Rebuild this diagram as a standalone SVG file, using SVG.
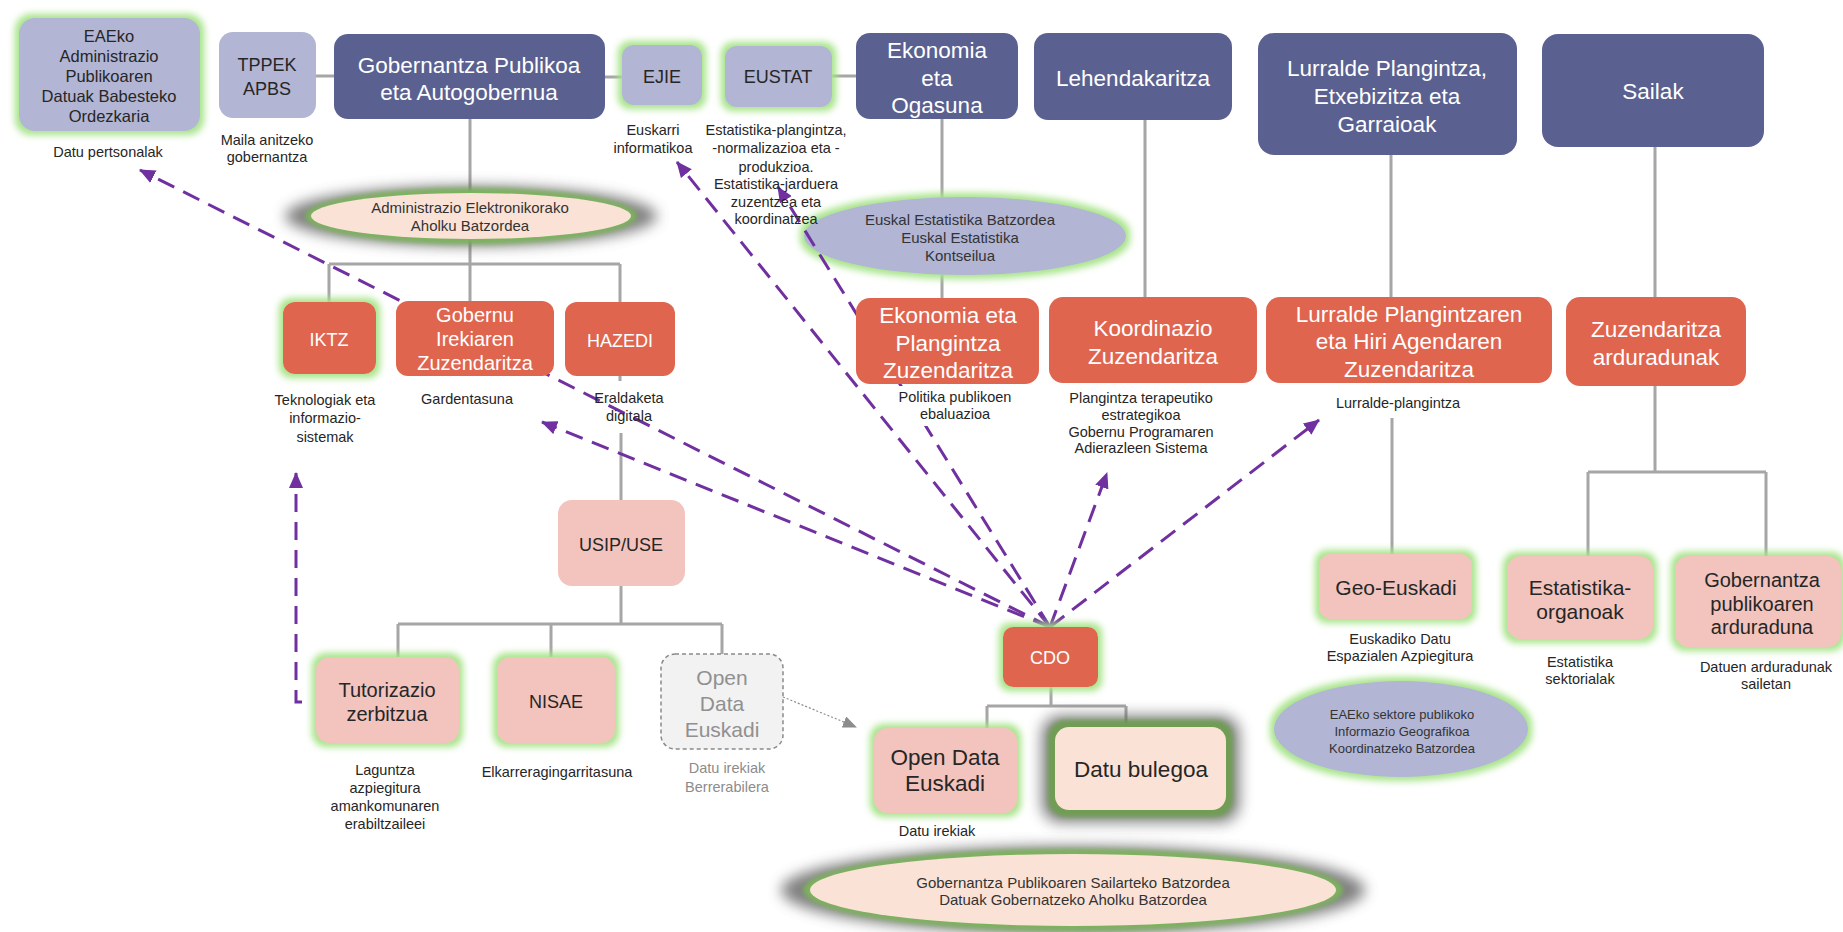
<svg xmlns="http://www.w3.org/2000/svg" width="1843" height="932" viewBox="0 0 1843 932">
<defs>
<style>
text{font-family:"Liberation Sans",Arial,sans-serif;text-anchor:middle}
.w{fill:#fff}
.k{fill:#262626}
.s{font-size:14.5px;fill:#262626}
.e{font-size:15px;fill:#333}
.lav{fill:#b2b5d3}
.dark{fill:#5a6190}
.cor{fill:#e0654f}
.pink{fill:#f2c4bd}
.peach{fill:#fae3d6}
.gl{stroke:#a6a6a6;stroke-width:3;fill:none}
.ar{stroke:#7030a0;stroke-width:3;fill:none;stroke-dasharray:18 10;marker-end:url(#ah)}
.f16{font-size:16.5px}
.f18{font-size:18px}
.f20{font-size:20px}
.f21{font-size:21px}
.f22{font-size:22.5px}
</style>
<marker id="ah" markerUnits="userSpaceOnUse" markerWidth="16" markerHeight="14" refX="15" refY="7" orient="auto"><path d="M0,0 L16,7 L0,14 z" fill="#7030a0"/></marker>
<marker id="gah" markerUnits="userSpaceOnUse" markerWidth="14" markerHeight="12" refX="13" refY="6" orient="auto"><path d="M0,0 L14,6 L0,12 z" fill="#8c8c8c"/></marker>
<filter id="glow" x="-30%" y="-30%" width="160%" height="160%">
<feMorphology in="SourceAlpha" operator="dilate" radius="4" result="d"/>
<feGaussianBlur in="d" stdDeviation="3.5" result="b"/>
<feFlood flood-color="#a6e388"/>
<feComposite in2="b" operator="in" result="g"/>
<feMerge><feMergeNode in="g"/><feMergeNode in="SourceGraphic"/></feMerge>
</filter>
<filter id="b2" x="-20%" y="-50%" width="140%" height="200%"><feGaussianBlur stdDeviation="2.5"/></filter>
<filter id="b7" x="-20%" y="-100%" width="140%" height="300%"><feGaussianBlur stdDeviation="7"/></filter>
</defs>
<rect width="1843" height="932" fill="#fff"/>

<g id="connectors">
<path class="gl" d="M316,76H334M605,77H622M832,76H856"/>
<path class="gl" d="M470,119V301M329,264H620M329,264V302M620,264V302"/>
<path class="gl" d="M620,376V381M621,433V500M621,586V624M398,624H722M398,624V657M551,624V657M722,624V654"/>
<path class="gl" d="M942,119V298M1145,120V297M1391,155V297M1392,418V554"/>
<path class="gl" d="M1655,147V297M1655,386V472M1588,472H1766M1588,472V556M1766,472V556"/>
<path class="gl" d="M1051,687V706M987,706H1126M987,706V728M1126,706V727"/>
</g>

<g id="n_admin_ellipse">
<ellipse cx="471" cy="216" rx="186" ry="30" fill="#555" opacity="0.75" filter="url(#b7)"/>
<ellipse cx="471" cy="216" rx="166" ry="28" fill="#7db35d" filter="url(#b2)"/>
<ellipse cx="471" cy="216" rx="160" ry="23" class="peach"/>
<text class="e"><tspan x="470" y="213">Administrazio Elektronikorako</tspan><tspan x="470" y="231">Aholku Batzordea</tspan></text>
</g>

<g id="n_euskal_ellipse">
<ellipse cx="965" cy="236" rx="161" ry="39" class="lav" filter="url(#glow)"/>
<text class="e"><tspan x="960" y="225">Euskal Estatistika Batzordea</tspan><tspan x="960" y="243">Euskal Estatistika</tspan><tspan x="960" y="261">Kontseilua</tspan></text>
</g>

<g id="n_geo_ellipse">
<ellipse cx="1401" cy="729" rx="127" ry="48" class="lav" filter="url(#glow)"/>
<text class="e" style="font-size:13px"><tspan x="1402" y="719">EAEko sektore publikoko</tspan><tspan x="1402" y="736">Informazio Geografikoa</tspan><tspan x="1402" y="753">Koordinatzeko Batzordea</tspan></text>
</g>

<g id="n_bottom_ellipse">
<ellipse cx="1073" cy="890" rx="292" ry="44" fill="#555" opacity="0.75" filter="url(#b7)"/>
<ellipse cx="1073" cy="890" rx="270" ry="41" fill="#7db35d" filter="url(#b2)"/>
<ellipse cx="1073" cy="890" rx="263" ry="36" class="peach"/>
<text class="e"><tspan x="1073" y="888">Gobernantza Publikoaren Sailarteko Batzordea</tspan><tspan x="1073" y="905">Datuak Gobernatzeko Aholku Batzordea</tspan></text>
</g>

<g id="arrows">
<path class="ar" d="M1050,627L140,170"/>
<path class="ar" d="M1050,627L677,162"/>
<path class="ar" d="M1050,627L778,187"/>
<path class="ar" d="M1050,627L542,422"/>
<path class="ar" d="M1050,627L1107,473"/>
<path class="ar" d="M1050,627L1319,420"/>
<path class="ar" d="M302,702H296V473"/>
<path d="M783,697L856,727" stroke="#8c8c8c" stroke-width="1.2" stroke-dasharray="2 2" fill="none" marker-end="url(#gah)"/>
</g>

<g id="n_eaeko">
<rect x="19" y="18" width="181" height="113" rx="16" class="lav" filter="url(#glow)"/>
<text class="k f16"><tspan x="109" y="42">EAEko</tspan><tspan x="109" y="62">Administrazio</tspan><tspan x="109" y="82">Publikoaren</tspan><tspan x="109" y="102">Datuak Babesteko</tspan><tspan x="109" y="122">Ordezkaria</tspan></text>
<text class="s" x="108" y="157">Datu pertsonalak</text>
</g>

<g id="n_tppek">
<rect x="219" y="32" width="97" height="86" rx="14" class="lav"/>
<text class="k f18"><tspan x="267" y="71">TPPEK</tspan><tspan x="267" y="95">APBS</tspan></text>
<text class="s"><tspan x="267" y="145">Maila anitzeko</tspan><tspan x="267" y="162">gobernantza</tspan></text>
</g>

<g id="n_gob">
<rect x="334" y="34" width="271" height="85" rx="14" class="dark"/>
<text class="w f22"><tspan x="469" y="73">Gobernantza Publikoa</tspan><tspan x="469" y="100">eta Autogobernua</tspan></text>
</g>

<g id="n_ejie">
<rect x="622" y="45" width="80" height="60" rx="12" class="lav" filter="url(#glow)"/>
<text class="k f18" x="662" y="83">EJIE</text>
<text class="s"><tspan x="653" y="135">Euskarri</tspan><tspan x="653" y="153">informatikoa</tspan></text>
</g>

<g id="n_eustat">
<rect x="725" y="46" width="107" height="61" rx="12" class="lav" filter="url(#glow)"/>
<text class="k f18" x="778" y="83">EUSTAT</text>
<text class="s"><tspan x="776" y="135">Estatistika-plangintza,</tspan><tspan x="776" y="153">-normalizazioa eta -</tspan><tspan x="776" y="172">produkzioa.</tspan><tspan x="776" y="189">Estatistika-jarduera</tspan><tspan x="776" y="207">zuzentzea eta</tspan><tspan x="776" y="224">koordinatzea</tspan></text>
</g>

<g id="n_ekon">
<rect x="856" y="33" width="162" height="86" rx="14" class="dark"/>
<text class="w f22"><tspan x="937" y="58">Ekonomia</tspan><tspan x="937" y="86">eta</tspan><tspan x="937" y="113">Ogasuna</tspan></text>
</g>

<g id="n_lehen">
<rect x="1034" y="33" width="198" height="87" rx="14" class="dark"/>
<text class="w f22" x="1133" y="86">Lehendakaritza</text>
</g>

<g id="n_lurralde">
<rect x="1258" y="33" width="259" height="122" rx="16" class="dark"/>
<text class="w f22"><tspan x="1387" y="76">Lurralde Plangintza,</tspan><tspan x="1387" y="104">Etxebizitza eta</tspan><tspan x="1387" y="132">Garraioak</tspan></text>
</g>

<g id="n_sailak">
<rect x="1542" y="34" width="222" height="113" rx="16" class="dark"/>
<text class="w f22" x="1653" y="99">Sailak</text>
</g>

<g id="n_iktz">
<rect x="283" y="302" width="93" height="72" rx="12" class="cor" filter="url(#glow)"/>
<text class="w f18" x="329" y="346">IKTZ</text>
<text class="s"><tspan x="325" y="405">Teknologiak eta</tspan><tspan x="325" y="423">informazio-</tspan><tspan x="325" y="442">sistemak</tspan></text>
</g>

<g id="n_gobernu">
<rect x="396" y="301" width="158" height="75" rx="12" class="cor"/>
<text class="w f20"><tspan x="475" y="322">Gobernu</tspan><tspan x="475" y="346">Irekiaren</tspan><tspan x="475" y="370">Zuzendaritza</tspan></text>
<text class="s" x="467" y="404">Gardentasuna</text>
</g>

<g id="n_hazedi">
<rect x="565" y="302" width="110" height="74" rx="12" class="cor"/>
<text class="w f18" x="620" y="347">HAZEDI</text>
<text class="s"><tspan x="629" y="403">Eraldaketa</tspan><tspan x="629" y="421">digitala</tspan></text>
</g>

<g id="n_ekplan">
<rect x="893" y="386" width="124" height="40" fill="#fff"/>
<rect x="856" y="298" width="183" height="86" rx="14" class="cor"/>
<text class="w f22"><tspan x="948" y="323">Ekonomia eta</tspan><tspan x="948" y="351">Plangintza</tspan><tspan x="948" y="378">Zuzendaritza</tspan></text>
<text class="s"><tspan x="955" y="402">Politika publikoen</tspan><tspan x="955" y="419">ebaluazioa</tspan></text>
</g>

<g id="n_koord">
<rect x="1049" y="297" width="208" height="86" rx="14" class="cor"/>
<text class="w f22"><tspan x="1153" y="336">Koordinazio</tspan><tspan x="1153" y="364">Zuzendaritza</tspan></text>
<text class="s"><tspan x="1141" y="403">Plangintza terapeutiko</tspan><tspan x="1141" y="420">estrategikoa</tspan><tspan x="1141" y="437">Gobernu Programaren</tspan><tspan x="1141" y="453">Adierazleen Sistema</tspan></text>
</g>

<g id="n_lurzuz">
<rect x="1266" y="297" width="286" height="86" rx="14" class="cor"/>
<text class="w f22"><tspan x="1409" y="322">Lurralde Plangintzaren</tspan><tspan x="1409" y="349">eta Hiri Agendaren</tspan><tspan x="1409" y="377">Zuzendaritza</tspan></text>
<text class="s" x="1398" y="408">Lurralde-plangintza</text>
</g>

<g id="n_zuzard">
<rect x="1566" y="297" width="180" height="89" rx="14" class="cor"/>
<text class="w f22"><tspan x="1656" y="337">Zuzendaritza</tspan><tspan x="1656" y="365">arduradunak</tspan></text>
</g>

<g id="n_usip">
<rect x="558" y="500" width="127" height="86" rx="14" class="pink"/>
<text class="k f18" x="621" y="551">USIP/USE</text>
</g>

<g id="n_geo">
<rect x="1319" y="554" width="153" height="65" rx="12" class="pink" filter="url(#glow)"/>
<text class="k f21" x="1396" y="595">Geo-Euskadi</text>
<text class="s"><tspan x="1400" y="644">Euskadiko Datu</tspan><tspan x="1400" y="661">Espazialen Azpiegitura</tspan></text>
</g>

<g id="n_estat">
<rect x="1507" y="556" width="146" height="83" rx="14" class="pink" filter="url(#glow)"/>
<text class="k f21"><tspan x="1580" y="595">Estatistika-</tspan><tspan x="1580" y="619">organoak</tspan></text>
<text class="s"><tspan x="1580" y="667">Estatistika</tspan><tspan x="1580" y="684">sektorialak</tspan></text>
</g>

<g id="n_gobard">
<rect x="1675" y="556" width="166" height="91" rx="14" class="pink" filter="url(#glow)"/>
<text class="k f20"><tspan x="1762" y="587">Gobernantza</tspan><tspan x="1762" y="611">publikoaren</tspan><tspan x="1762" y="634">arduraduna</tspan></text>
<text class="s"><tspan x="1766" y="672">Datuen arduradunak</tspan><tspan x="1766" y="689">sailetan</tspan></text>
</g>

<g id="n_cdo">
<rect x="1003" y="627" width="95" height="60" rx="10" class="cor" filter="url(#glow)"/>
<text class="w f18" x="1050" y="664">CDO</text>
</g>

<g id="n_tutor">
<rect x="316" y="657" width="143" height="86" rx="14" class="pink" filter="url(#glow)"/>
<text class="k f20"><tspan x="387" y="697">Tutorizazio</tspan><tspan x="387" y="721">zerbitzua</tspan></text>
<text class="s"><tspan x="385" y="775">Laguntza</tspan><tspan x="385" y="793">azpiegitura</tspan><tspan x="385" y="811">amankomunaren</tspan><tspan x="385" y="829">erabiltzaileei</tspan></text>
</g>

<g id="n_nisae">
<rect x="497" y="657" width="118" height="86" rx="14" class="pink" filter="url(#glow)"/>
<text class="k f18" x="556" y="708">NISAE</text>
<text class="s" x="557" y="777">Elkarreragingarritasuna</text>
</g>

<g id="n_odedash">
<rect x="661" y="654" width="122" height="95" rx="14" fill="#f2f2f2" stroke="#8a8a8a" stroke-width="1.5" stroke-dasharray="4 3"/>
<text class="f21" fill="#909090"><tspan x="722" y="685">Open</tspan><tspan x="722" y="711">Data</tspan><tspan x="722" y="737">Euskadi</tspan></text>
<text class="s" style="fill:#8c8c8c"><tspan x="727" y="773">Datu irekiak</tspan><tspan x="727" y="792">Berrerabilera</tspan></text>
</g>

<g id="n_odeuskadi">
<rect x="874" y="728" width="143" height="85" rx="14" class="pink" filter="url(#glow)"/>
<text class="k f22"><tspan x="945" y="765">Open Data</tspan><tspan x="945" y="791">Euskadi</tspan></text>
<text class="s" x="937" y="836">Datu irekiak</text>
</g>

<g id="n_datubul">
<rect x="1041" y="715" width="199" height="108" rx="20" fill="#555" opacity="0.7" filter="url(#b7)"/>
<rect x="1048" y="720" width="185" height="97" rx="18" fill="#6f9d52" filter="url(#b2)"/>
<rect x="1055" y="727" width="171" height="83" rx="14" class="peach"/>
<text class="k f22" x="1141" y="777">Datu bulegoa</text>
</g>
</svg>
